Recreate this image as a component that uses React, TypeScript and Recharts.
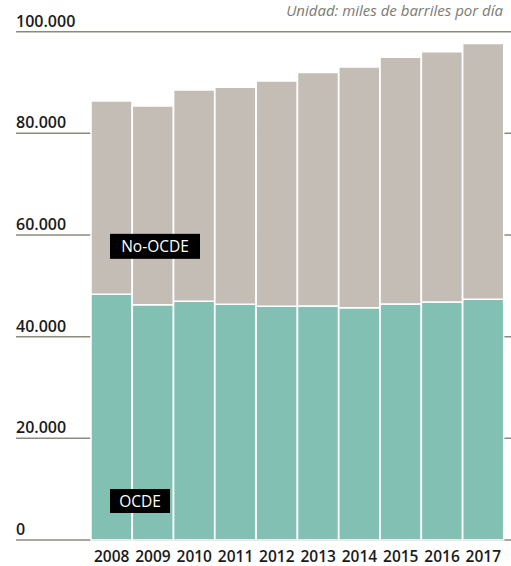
import React from 'react';
import { BarChart, Bar, XAxis, YAxis, CartesianGrid } from 'recharts';

const years = ['2008', '2009', '2010', '2011', '2012', '2013', '2014', '2015', '2016', '2017'];
const ocde = [48330, 46290, 46950, 46360, 45970, 46030, 45700, 46420, 46810, 47340];
const noOcde = [38030, 39080, 41570, 42690, 44320, 45960, 47340, 48530, 49240, 50360];
const yTicks = [0, 20000, 40000, 60000, 80000, 100000];
const unitText = 'Unidad: miles de barriles por día';
const seriesNames = { ocde: 'OCDE', noOcde: 'No-OCDE' };

const data = years.map((y, i) => ({ year: y, ocde: ocde[i], noOcde: noOcde[i] }));

const FONT = '"Open Sans", sans-serif';

const fmt = (v: number) => v.toLocaleString('de-DE');

const renderYTick = (props: any) => {
  const { y, payload } = props;
  return (
    <text x={16} y={Number(y) - 5} fill="#1a1a1a" fontSize={16} fontFamily={FONT} fontWeight={600} textAnchor="start">
      {fmt(payload.value)}
    </text>
  );
};

const makeLabel = (text: string, boxW: number, boxH: number, fromBottom: number) => (props: any) => {
  const { x, y, height, index } = props;
  if (index !== 0) return <g />;
  const bx = Number(x) + 19;
  const cy = Number(y) + Number(height) - fromBottom;
  return (
    <g>
      <rect x={bx} y={cy - boxH / 2} width={boxW} height={boxH} fill="#000" />
      <text x={bx + boxW / 2} y={cy + 5.5} fill="#fff" fontSize={15.5} fontFamily={FONT} textAnchor="middle">
        {text}
      </text>
    </g>
  );
};

export default function App() {
  return (
    <div style={{ position: 'absolute', left: 0, top: 0, width: 511, height: 566, overflow: 'hidden', background: '#fff' }}>
      <div
        style={{
          position: 'absolute',
          right: 6,
          top: 1,
          whiteSpace: 'nowrap',
          fontFamily: FONT,
          fontStyle: 'italic',
          fontSize: 15,
          lineHeight: '18px',
          padding: '0 2px',
          color: '#7a7a72',
        }}
      >
        {unitText}
      </div>
      <BarChart
        width={511}
        height={566}
        data={data}
        margin={{ top: 31.7, right: 0, bottom: 0, left: 0 }}
        barCategoryGap={0}
      >
        <CartesianGrid vertical={false} stroke="#8c8a7c" strokeWidth={1.5} />
        <YAxis
          width={16}
          domain={[0, 100000]}
          ticks={yTicks}
          interval={0}
          axisLine={false}
          tickLine={false}
          tick={renderYTick}
        />
        <XAxis
          dataKey="year"
          height={26}
          padding={{ left: 75, right: 7 }}
          axisLine={false}
          tickLine={false}
          tickSize={0}
          tickMargin={11}
          interval={0}
          tick={{ fill: '#1a1a1a', fontSize: 15.5, fontFamily: FONT, fontWeight: 600 }}
        />
        <Bar
          dataKey="ocde"
          stackId="a"
          fill="#82c0b4"
          stroke="#fff"
          strokeWidth={1.5}
          isAnimationActive={false}
          label={makeLabel(seriesNames.ocde, 60, 24, 39)}
        />
        <Bar
          dataKey="noOcde"
          stackId="a"
          fill="#c4bdb6"
          stroke="#fff"
          strokeWidth={1.5}
          isAnimationActive={false}
          label={makeLabel(seriesNames.noOcde, 90, 25, 48)}
        />
      </BarChart>
    </div>
  );
}
